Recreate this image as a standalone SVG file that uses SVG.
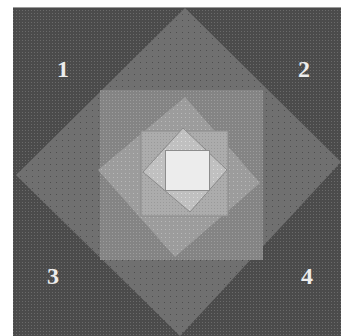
<svg xmlns="http://www.w3.org/2000/svg" width="341" height="336" viewBox="0 0 341 336">
<defs>
<pattern id="pBg" width="3" height="3" patternUnits="userSpaceOnUse"><rect width="3" height="3" fill="#4b4b4b"/><rect x="1" y="1" width="1" height="1" fill="#6a6a6a"/></pattern>
<pattern id="pD1" width="6" height="6" patternUnits="userSpaceOnUse"><rect width="6" height="6" fill="#707070"/><rect x="2" y="2" width="1" height="1" fill="#4e4e4e"/></pattern>
<pattern id="pSq1" width="3" height="3" patternUnits="userSpaceOnUse"><rect width="3" height="3" fill="#848484"/><rect x="1" y="1" width="1" height="1" fill="#9c9c9c"/></pattern>
<pattern id="pD2" width="4" height="4" patternUnits="userSpaceOnUse"><rect width="4" height="4" fill="#9c9c9c"/><rect x="1" y="1" width="1" height="1" fill="#b8b8b8"/></pattern>
<pattern id="pSq2" width="3" height="3" patternUnits="userSpaceOnUse"><rect width="3" height="3" fill="#acacac"/><rect x="1" y="1" width="1" height="1" fill="#9a9a9a"/></pattern>
<pattern id="pD3" width="4" height="4" patternUnits="userSpaceOnUse"><rect width="4" height="4" fill="#c0c0c0"/><rect x="1" y="1" width="1" height="1" fill="#dadada"/></pattern>
</defs>
<style>
.num{font-family:"Liberation Serif",serif;font-weight:bold;font-size:24px;fill:#ececec;text-anchor:middle}
</style>
<rect width="341" height="336" fill="#ffffff"/>
<g id="background">
<rect x="13" y="7" width="328" height="329" fill="url(#pBg)"/>
<line x1="13" y1="7.5" x2="341" y2="7.5" stroke="#9a9a9a" stroke-width="1"/>
</g>
<g id="diamond1"><polygon points="185,8 341,162 180,336 16,175" fill="url(#pD1)"/></g>
<g id="square1"><rect x="100" y="90" width="163" height="170" fill="url(#pSq1)"/></g>
<g id="diamond2"><polygon points="185,97 260,183 175,257 98,170" fill="url(#pD2)"/></g>
<g id="square2"><rect x="141" y="131" width="87" height="85" fill="url(#pSq2)" stroke="#8a8a8a" stroke-width="1"/></g>
<g id="diamond3"><polygon points="183,128 227,170 190,212 143,172" fill="url(#pD3)" stroke="#8a8a8a" stroke-width="1"/></g>
<g id="square3"><rect x="165.5" y="150.5" width="44" height="40" fill="#ececec" stroke="#8c8c8c" stroke-width="1"/></g>
<g id="labels">
<text class="num" x="63" y="77">1</text>
<text class="num" x="304" y="77">2</text>
<text class="num" x="53" y="284">3</text>
<text class="num" x="307" y="284">4</text>
</g>
</svg>
